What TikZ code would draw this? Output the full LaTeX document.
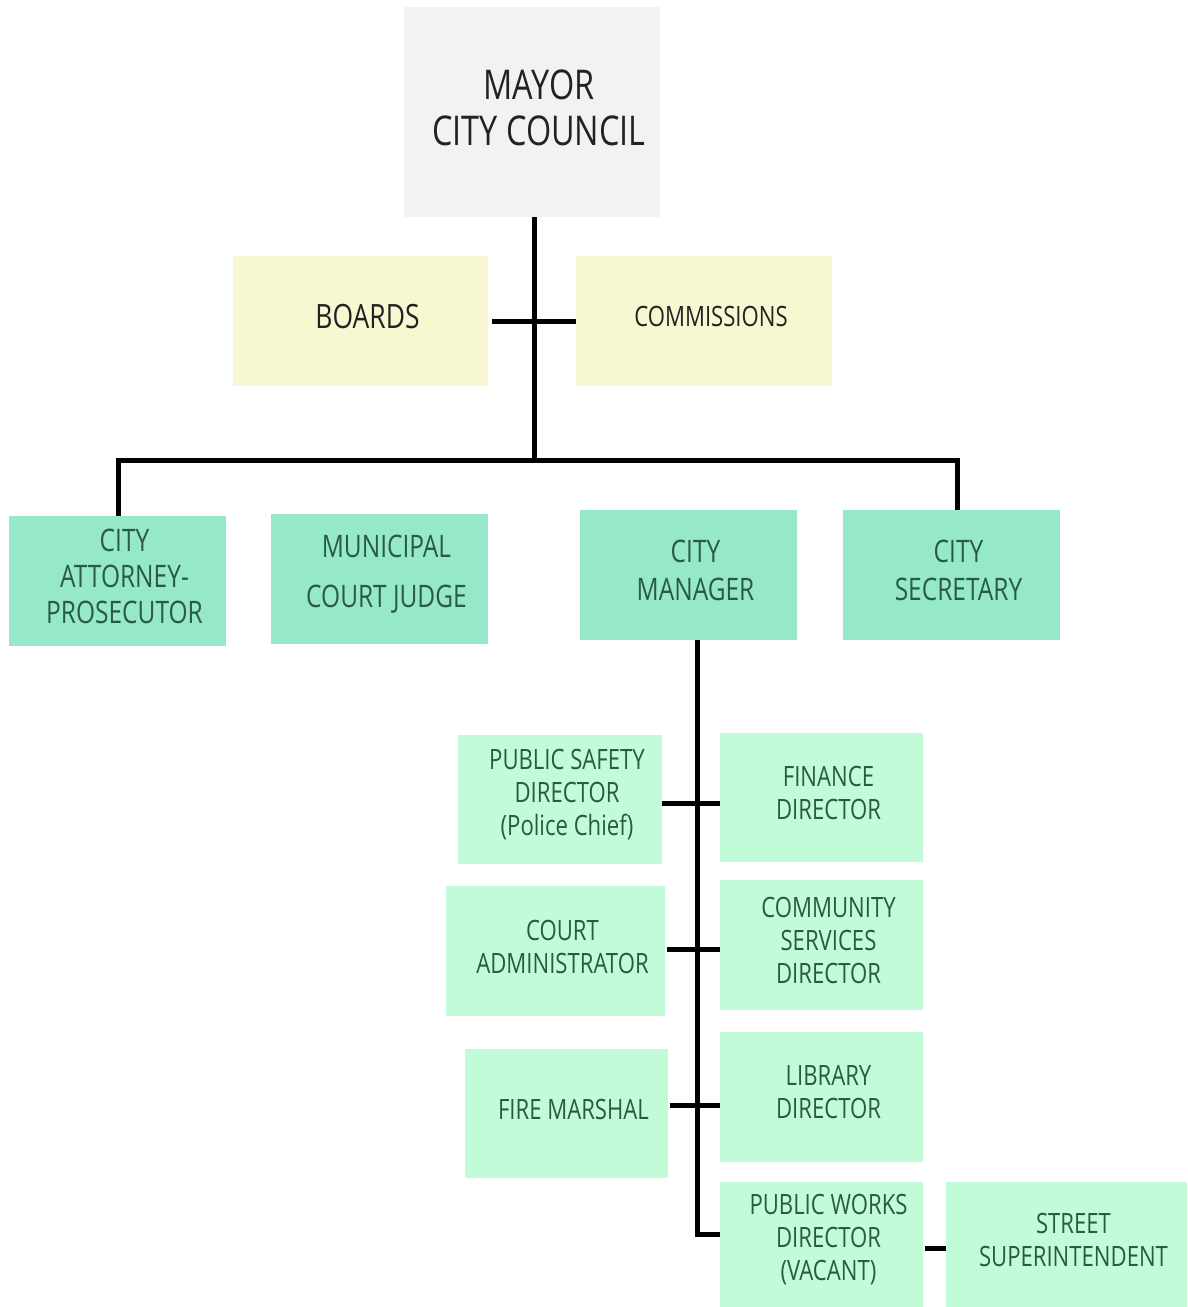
\documentclass[tikz,border=0pt]{standalone}
\usepackage{fontspec}
\setmainfont[FakeStretch=0.79]{Open Sans}
\definecolor{topgray}{HTML}{F2F2F2}
\definecolor{ylw}{HTML}{F7F8D2}
\definecolor{grnA}{HTML}{95E9C9}
\definecolor{grnB}{HTML}{C1FBD7}
\definecolor{txtdark}{HTML}{222222}
\definecolor{txtgrn}{HTML}{2A5A42}
\tikzset{
  box/.style={anchor=north west, inner sep=0pt, outer sep=0pt},
  graybox/.style={box, fill=topgray},
  yelbox/.style={box, fill=ylw},
  gAbox/.style={box, fill=grnA},
  gBbox/.style={box, fill=grnB},
  darktext/.style={align=center, inner sep=0pt, text=txtdark},
  grntext/.style={align=center, inner sep=0pt, text=txtgrn},
  conn/.style={line width=5pt, draw=black},
}
\newcommand{\fs}[2]{\fontsize{#1pt}{#2pt}\selectfont}
% \bx{name}{boxstyle}{textstyle}{x}{y}{w}{h}{font}{text}
\newcommand{\bx}[9]{%
  \node[#2, minimum width=#6pt, minimum height=#7pt] (#1) at (#4,#5) {};
  \node[#3, font=#8] (#1T) at ([xshift=7pt,yshift=4.5pt]#1.center) {#9};
}
\begin{document}
\begin{tikzpicture}[x=1pt,y=-1pt]
\useasboundingbox (0,0) rectangle (1187,1307);
% top
\bx{mayor}{graybox}{darktext}{404}{7}{256}{210}{\fs{41}{46}}{MAYOR\\CITY COUNCIL}
\bx{boards}{yelbox}{darktext}{233}{256}{255}{130}{\fs{33.5}{40}}{BOARDS}
\bx{comm}{yelbox}{darktext}{576}{256}{256}{130}{\fs{28}{34}}{COMMISSIONS}
% row 2
\bx{att}{gAbox}{grntext}{9}{516}{217}{130}{\fs{31}{36}}{CITY\\ATTORNEY-\\PROSECUTOR}
\bx{judge}{gAbox}{grntext}{271}{514}{217}{130}{\fs{31}{50}}{MUNICIPAL\\COURT JUDGE}
\bx{mgr}{gAbox}{grntext}{580}{510}{217}{130}{\fs{31}{38}}{CITY\\MANAGER}
\bx{sec}{gAbox}{grntext}{843}{510}{217}{130}{\fs{31}{38}}{CITY\\SECRETARY}
% lower
\bx{ps}{gBbox}{grntext}{458}{735}{204}{129}{\fs{28}{33}}{PUBLIC SAFETY\\DIRECTOR\\(Police Chief)}
\bx{fin}{gBbox}{grntext}{720}{733}{203}{129}{\fs{28}{33}}{FINANCE\\DIRECTOR}
\bx{ca}{gBbox}{grntext}{446}{886}{219}{130}{\fs{28}{33}}{COURT\\ADMINISTRATOR}
\bx{cs}{gBbox}{grntext}{720}{880}{203}{130}{\fs{28}{33}}{COMMUNITY\\SERVICES\\DIRECTOR}
\bx{fm}{gBbox}{grntext}{465}{1049}{203}{129}{\fs{28}{33}}{FIRE MARSHAL}
\bx{lib}{gBbox}{grntext}{720}{1032}{203}{130}{\fs{28}{33}}{LIBRARY\\DIRECTOR}
\bx{pw}{gBbox}{grntext}{720}{1182}{203}{125}{\fs{28}{33}}{PUBLIC WORKS\\DIRECTOR\\(VACANT)}
\bx{st}{gBbox}{grntext}{946}{1182}{241}{125}{\fs{28}{33}}{STREET\\SUPERINTENDENT}
% connectors
\coordinate (bus) at (534,460);
\coordinate (trunk) at (697,642);
\draw[conn] (mayor.south -| bus) -- (bus);
\draw[conn] ([xshift=4pt]boards.east) -- (comm.west);
\draw[conn] (att.north -| 118,0) |- (bus) -| (sec.north -| 957,0);
\draw[conn] (mgr.south -| trunk) |- ([yshift=10pt]pw.west);
\draw[conn] (ps.east |- 0,803) -- (fin.west |- 0,803);
\draw[conn] ([xshift=2pt]ca.east |- 0,949) -- (cs.west |- 0,949);
\draw[conn] ([xshift=2pt]fm.east |- 0,1105) -- (lib.west |- 0,1105);
\draw[conn] ([xshift=2pt]pw.east |- 0,1248) -- (st.west |- 0,1248);
\end{tikzpicture}
\end{document}
